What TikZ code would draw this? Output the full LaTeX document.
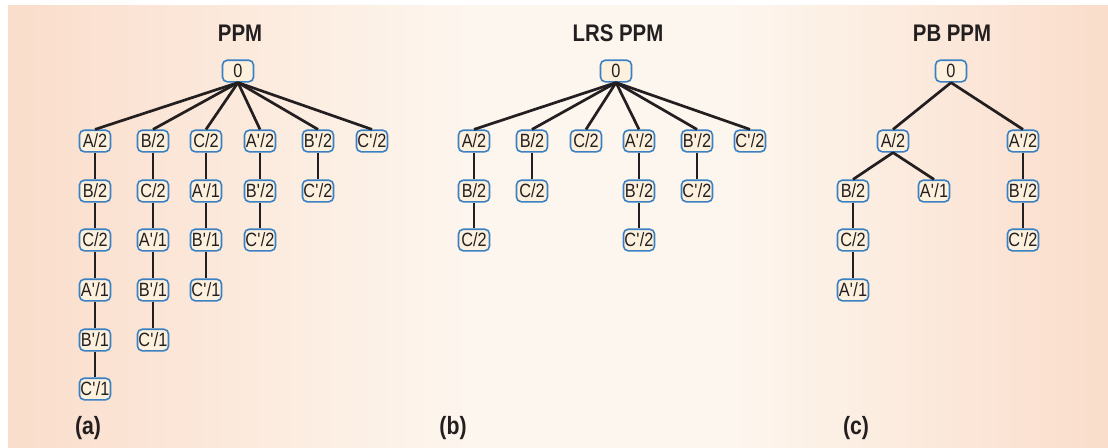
\documentclass[tikz,border=0pt]{standalone}
\usepackage{fontspec}
\setmainfont{Liberation Sans}[FakeStretch=0.85]
\definecolor{peach}{RGB}{250,221,203}
\definecolor{pale}{RGB}{253,246,238}
\definecolor{nodefill}{RGB}{253,241,222}
\definecolor{nodeborder}{RGB}{58,128,194}
\definecolor{edgec}{RGB}{35,31,32}
\pgfdeclarehorizontalshading{bgshade}{100bp}{color(0bp)=(peach); color(25bp)=(peach); color(46bp)=(pale); color(58bp)=(pale); color(75bp)=(peach); color(100bp)=(peach)}
\newcommand{\pq}{\textquotesingle}
\begin{document}
\begin{tikzpicture}[x=0.5pt,y=-0.5pt,
  nd/.style={draw=nodeborder,fill=nodefill,line width=0.8pt,rounded corners=2.4pt,
    minimum width=15.5pt,minimum height=10.8pt,inner sep=0.5pt,text=edgec,
    font=\fontsize{9.6}{10}\selectfont},
  ed/.style={draw=edgec,line width=1.35pt},
  ttl/.style={font=\bfseries\fontsize{12}{14}\selectfont,text=edgec},
  lab/.style={font=\bfseries\fontsize{12.5}{14}\selectfont,text=edgec}]
\useasboundingbox (0,0) rectangle (1108,447);
\fill[white] (0,0) rectangle (1108,447);
\shade[shading=bgshade] (8,5) rectangle (1108,447);

% ---------- (a) PPM ----------
\node[ttl] (ta) at (240,33) {PPM};
\node[nd] (r) at (238,71) {0};
% column A
\node[nd] (a1) at (95,141) {A/2};
\node[nd] (a2) at (95,191) {B/2};
\node[nd] (a3) at (95,240) {C/2};
\node[nd] (a4) at (95,290) {A\pq/1};
\node[nd] (a5) at (95,340) {B\pq/1};
\node[nd] (a6) at (95,389) {C\pq/1};
% column B
\node[nd] (b1) at (153,141) {B/2};
\node[nd] (b2) at (153,191) {C/2};
\node[nd] (b3) at (153,240) {A\pq/1};
\node[nd] (b4) at (153,290) {B\pq/1};
\node[nd] (b5) at (153,340) {C\pq/1};
% column C
\node[nd] (c1) at (206,141) {C/2};
\node[nd] (c2) at (206,191) {A\pq/1};
\node[nd] (c3) at (206,240) {B\pq/1};
\node[nd] (c4) at (206,290) {C\pq/1};
% column A'
\node[nd] (d1) at (260,141) {A\pq/2};
\node[nd] (d2) at (260,191) {B\pq/2};
\node[nd] (d3) at (260,240) {C\pq/2};
% column B'
\node[nd] (e1) at (318,141) {B\pq/2};
\node[nd] (e2) at (318,191) {C\pq/2};
% column C'
\node[nd] (f1) at (372,141) {C\pq/2};
\foreach \c in {a1,b1,c1,d1,e1,f1} \draw[ed] (r.south) -- (\c.north);
\draw[ed] (a1) -- (a2); \draw[ed] (a2) -- (a3); \draw[ed] (a3) -- (a4);
\draw[ed] (a4) -- (a5); \draw[ed] (a5) -- (a6);
\draw[ed] (b1) -- (b2); \draw[ed] (b2) -- (b3); \draw[ed] (b3) -- (b4); \draw[ed] (b4) -- (b5);
\draw[ed] (c1) -- (c2); \draw[ed] (c2) -- (c3); \draw[ed] (c3) -- (c4);
\draw[ed] (d1) -- (d2); \draw[ed] (d2) -- (d3);
\draw[ed] (e1) -- (e2);
\node[lab] (la) at (88,428) {(a)};

% ---------- (b) LRS PPM ----------
\node[ttl] (tb) at (618,33) {LRS PPM};
\node[nd] (rb) at (616,71) {0};
\node[nd] (ba1) at (474,141) {A/2};
\node[nd] (ba2) at (474,191) {B/2};
\node[nd] (ba3) at (474,240) {C/2};
\node[nd] (bb1) at (532,141) {B/2};
\node[nd] (bb2) at (532,191) {C/2};
\node[nd] (bc1) at (586,141) {C/2};
\node[nd] (bd1) at (639,141) {A\pq/2};
\node[nd] (bd2) at (639,191) {B\pq/2};
\node[nd] (bd3) at (639,240) {C\pq/2};
\node[nd] (be1) at (697,141) {B\pq/2};
\node[nd] (be2) at (697,191) {C\pq/2};
\node[nd] (bf1) at (750,141) {C\pq/2};
\foreach \c in {ba1,bb1,bc1,bd1,be1,bf1} \draw[ed] (rb.south) -- (\c.north);
\draw[ed] (ba1) -- (ba2); \draw[ed] (ba2) -- (ba3);
\draw[ed] (bb1) -- (bb2);
\draw[ed] (bd1) -- (bd2); \draw[ed] (bd2) -- (bd3);
\draw[ed] (be1) -- (be2);
\node[lab] (lb) at (453,428) {(b)};

% ---------- (c) PB PPM ----------
\node[ttl] (tc) at (952,33) {PB PPM};
\node[nd] (rc) at (951,71) {0};
\node[nd] (ca) at (893,141) {A/2};
\node[nd] (cd) at (1023,141) {A\pq/2};
\node[nd] (cb) at (853,191) {B/2};
\node[nd] (cx) at (934,191) {A\pq/1};
\node[nd] (cc) at (853,240) {C/2};
\node[nd] (cy) at (853,290) {A\pq/1};
\node[nd] (ce) at (1023,191) {B\pq/2};
\node[nd] (cf) at (1023,240) {C\pq/2};
\draw[ed] (rc.south) -- (ca.north);
\draw[ed] (rc.south) -- (cd.north);
\draw[ed] (ca.south) -- (cb.north);
\draw[ed] (ca.south) -- (cx.north);
\draw[ed] (cb) -- (cc); \draw[ed] (cc) -- (cy);
\draw[ed] (cd) -- (ce); \draw[ed] (ce) -- (cf);
\node[lab] (lc) at (856,428) {(c)};
\end{tikzpicture}
\end{document}
